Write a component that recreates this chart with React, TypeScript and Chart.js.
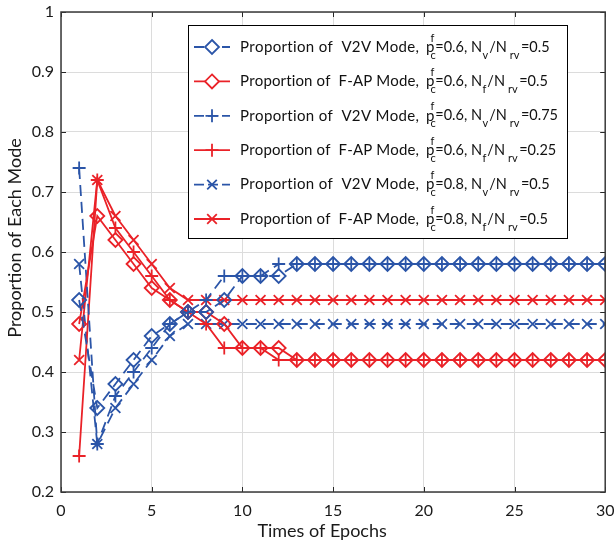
import React, { useEffect, useRef } from 'react';
import { Chart, registerables } from 'chart.js';

Chart.register(...registerables);

const FONT = 'Lato';
const BLUE = '#2B55A8';
const RED = '#EA2228';

const epochs = [1, 2, 3, 4, 5, 6, 7, 8, 9, 10, 11, 12, 13, 14, 15, 16, 17, 18, 19, 20, 21, 22, 23, 24, 25, 26, 27, 28, 29, 30];

const v2v06 = [0.52, 0.34, 0.38, 0.42, 0.46, 0.48, 0.50, 0.50, 0.52, 0.56, 0.56, 0.56, 0.58, 0.58, 0.58, 0.58, 0.58, 0.58, 0.58, 0.58, 0.58, 0.58, 0.58, 0.58, 0.58, 0.58, 0.58, 0.58, 0.58, 0.58];
const fap06 = [0.48, 0.66, 0.62, 0.58, 0.54, 0.52, 0.50, 0.50, 0.48, 0.44, 0.44, 0.44, 0.42, 0.42, 0.42, 0.42, 0.42, 0.42, 0.42, 0.42, 0.42, 0.42, 0.42, 0.42, 0.42, 0.42, 0.42, 0.42, 0.42, 0.42];
const v2v075 = [0.74, 0.28, 0.36, 0.40, 0.44, 0.48, 0.50, 0.52, 0.56, 0.56, 0.56, 0.58, 0.58, 0.58, 0.58, 0.58, 0.58, 0.58, 0.58, 0.58, 0.58, 0.58, 0.58, 0.58, 0.58, 0.58, 0.58, 0.58, 0.58, 0.58];
const fap025 = [0.26, 0.72, 0.64, 0.60, 0.56, 0.52, 0.50, 0.48, 0.44, 0.44, 0.44, 0.42, 0.42, 0.42, 0.42, 0.42, 0.42, 0.42, 0.42, 0.42, 0.42, 0.42, 0.42, 0.42, 0.42, 0.42, 0.42, 0.42, 0.42, 0.42];
const v2v08 = [0.58, 0.28, 0.34, 0.38, 0.42, 0.46, 0.48, 0.48, 0.48, 0.48, 0.48, 0.48, 0.48, 0.48, 0.48, 0.48, 0.48, 0.48, 0.48, 0.48, 0.48, 0.48, 0.48, 0.48, 0.48, 0.48, 0.48, 0.48, 0.48, 0.48];
const fap08 = [0.42, 0.72, 0.66, 0.62, 0.58, 0.54, 0.52, 0.52, 0.52, 0.52, 0.52, 0.52, 0.52, 0.52, 0.52, 0.52, 0.52, 0.52, 0.52, 0.52, 0.52, 0.52, 0.52, 0.52, 0.52, 0.52, 0.52, 0.52, 0.52, 0.52];

const xTitle = 'Times of Epochs';
const yTitle = 'Proportion of Each Mode';

type Series = {
  values: number[];
  color: string;
  dashed: boolean;
  marker: 'diamond' | 'plus' | 'x';
  mode: string;
  pcf: string;
  num: string;
  ratio: string;
};

const series: Series[] = [
  { values: v2v06, color: BLUE, dashed: true, marker: 'diamond', mode: 'V2V', pcf: '0.6', num: 'v', ratio: '0.5' },
  { values: fap06, color: RED, dashed: false, marker: 'diamond', mode: 'F-AP', pcf: '0.6', num: 'f', ratio: '0.5' },
  { values: v2v075, color: BLUE, dashed: true, marker: 'plus', mode: 'V2V', pcf: '0.6', num: 'v', ratio: '0.75' },
  { values: fap025, color: RED, dashed: false, marker: 'plus', mode: 'F-AP', pcf: '0.6', num: 'f', ratio: '0.25' },
  { values: v2v08, color: BLUE, dashed: true, marker: 'x', mode: 'V2V', pcf: '0.8', num: 'v', ratio: '0.5' },
  { values: fap08, color: RED, dashed: false, marker: 'x', mode: 'F-AP', pcf: '0.8', num: 'f', ratio: '0.5' },
];

const DASH = [11, 6];
const styleMap: Record<string, { ps: string; r: number }> = {
  diamond: { ps: 'rectRot', r: 7 },
  plus: { ps: 'cross', r: 6.5 },
  x: { ps: 'crossRot', r: 7 },
};

function drawMarker(ctx: CanvasRenderingContext2D, kind: string, x: number, y: number, color: string) {
  ctx.save();
  ctx.strokeStyle = color;
  ctx.lineWidth = 1.8;
  ctx.setLineDash([]);
  ctx.beginPath();
  if (kind === 'diamond') {
    const r = 7;
    ctx.moveTo(x, y - r);
    ctx.lineTo(x + r, y);
    ctx.lineTo(x, y + r);
    ctx.lineTo(x - r, y);
    ctx.closePath();
    ctx.fillStyle = '#fff';
    ctx.fill();
  } else if (kind === 'plus') {
    const r = 6.5;
    ctx.moveTo(x - r, y);
    ctx.lineTo(x + r, y);
    ctx.moveTo(x, y - r);
    ctx.lineTo(x, y + r);
  } else {
    const r = 4.8;
    ctx.moveTo(x - r, y - r);
    ctx.lineTo(x + r, y + r);
    ctx.moveTo(x - r, y + r);
    ctx.lineTo(x + r, y - r);
  }
  ctx.stroke();
  ctx.restore();
}

const framePlugin = {
  id: 'frame',
  afterDatasetsDraw(chart: any) {
    const { ctx, chartArea: a, scales } = chart;
    ctx.save();
    ctx.strokeStyle = '#262626';
    ctx.lineWidth = 1;
    ctx.setLineDash([]);
    ctx.beginPath();
    const xs = scales.x;
    const ys = scales.y;
    xs.ticks.forEach((t: any) => {
      const px = Math.round(xs.getPixelForValue(t.value)) + 0.5;
      ctx.moveTo(px, a.bottom);
      ctx.lineTo(px, a.bottom - 5);
      ctx.moveTo(px, a.top);
      ctx.lineTo(px, a.top + 5);
    });
    ys.ticks.forEach((t: any) => {
      const py = Math.round(ys.getPixelForValue(t.value)) + 0.5;
      ctx.moveTo(a.left, py);
      ctx.lineTo(a.left + 5, py);
      ctx.moveTo(a.right, py);
      ctx.lineTo(a.right - 5, py);
    });
    ctx.stroke();
    ctx.strokeStyle = '#3a3a3a';
    ctx.lineWidth = 1.5;
    ctx.strokeRect(a.left, a.top, a.right - a.left, a.bottom - a.top);

    ctx.fillStyle = '#1a1a1a';
    ctx.font = `18px ${FONT}`;
    ctx.textAlign = 'center';
    ctx.textBaseline = 'middle';
    ctx.fillText(xTitle, (a.left + a.right) / 2 - 11, a.bottom + 39);
    ctx.save();
    ctx.translate(15, (a.top + a.bottom) / 2 - 14);
    ctx.rotate(-Math.PI / 2);
    ctx.fillText(yTitle, 0, 0);
    ctx.restore();
    ctx.restore();
  },
};

function spacedText(ctx: CanvasRenderingContext2D, text: string, x: number, y: number, target: number) {
  const chars = Array.from(text);
  const widths = chars.map((c) => ctx.measureText(c).width);
  const natural = widths.reduce((p, c) => p + c, 0);
  const gap = chars.length > 1 ? (target - natural) / (chars.length - 1) : 0;
  let cx = x;
  chars.forEach((c, i) => {
    ctx.fillText(c, cx, y);
    cx += widths[i] + gap;
  });
}

const legendPlugin = {
  id: 'customLegend',
  afterDraw(chart: any) {
    const { ctx, chartArea: a } = chart;
    const bx = a.left + 127;
    const by = a.top + 13;
    const bw = 379;
    const bh = 213;
    ctx.save();
    ctx.fillStyle = '#fff';
    ctx.fillRect(bx, by, bw, bh);
    ctx.strokeStyle = '#000';
    ctx.lineWidth = 1;
    ctx.strokeRect(bx + 0.5, by + 0.5, bw, bh);

    const main = `15px ${FONT}`;
    const tail = `14.5px ${FONT}`;
    const small = `11px ${FONT}`;
    series.forEach((s, i) => {
      const y = by + 22 + i * 34.4;
      ctx.save();
      ctx.strokeStyle = s.color;
      ctx.lineWidth = 1.8;
      ctx.setLineDash(s.dashed ? [10, 4] : []);
      ctx.beginPath();
      ctx.moveTo(bx + 6, y);
      ctx.lineTo(bx + 42, y);
      ctx.stroke();
      ctx.restore();
      drawMarker(ctx, s.marker, bx + 24, y, s.color);

      ctx.fillStyle = '#111';
      ctx.textBaseline = 'middle';
      ctx.textAlign = 'left';
      ctx.font = main;
      spacedText(ctx, `Proportion of  ${s.mode} Mode,`, bx + 52, y, 179);
      let x = bx + 238;
      const put = (t: string, f: string, dy: number) => {
        ctx.font = f;
        ctx.fillText(t, x, y + dy);
        return ctx.measureText(t).width;
      };
      put('p', main, 0);
      x += 4.5;
      const w1 = put('f', small, -9);
      const w2 = put('c', small, 8);
      x += Math.max(w1, w2) - 0.5;
      x += put(`=${s.pcf}, N`, tail, 0);
      x += 0.5;
      x += put(s.num, small, 8) + 1;
      x += put('/N', tail, 0);
      x += 3;
      x += put('rv', small, 8) + 1.5;
      put(`=${s.ratio}`, tail, 0);
    });
    ctx.restore();
  },
};

const fmt = (v: any) => Number(Number(v).toFixed(2)).toString();

export default function App() {
  const ref = useRef<HTMLCanvasElement>(null);
  useEffect(() => {
    const tickFont = { family: FONT, size: 16 };
    const chart = new Chart(ref.current as HTMLCanvasElement, {
      type: 'line',
      data: {
        datasets: series.map((s) => ({
          data: epochs.map((e, i) => ({ x: e, y: s.values[i] })),
          borderColor: s.color,
          backgroundColor: 'transparent',
          borderWidth: 1.8,
          borderDash: s.dashed ? DASH : [],
          pointStyle: styleMap[s.marker].ps as any,
          pointRadius: styleMap[s.marker].r,
          pointBorderColor: s.color,
          pointBackgroundColor: 'transparent',
          pointBorderWidth: 1.8,
          tension: 0,
          clip: 0 as any,
        })),
      },
      options: {
        animation: false,
        responsive: false,
        layout: { padding: { top: 12, right: 7, left: 0, bottom: 0 } },
        plugins: { legend: { display: false }, tooltip: { enabled: false } },
        scales: {
          x: {
            type: 'linear',
            min: 0,
            max: 30,
            ticks: { stepSize: 5, font: tickFont, color: '#1a1a1a', padding: 9, maxRotation: 0, callback: fmt },
            grid: { color: '#dcdcdc', drawTicks: false },
            border: { display: false },
            afterFit: (s: any) => { s.height = 54; s.paddingLeft = 0; s.paddingRight = 0; },
          },
          y: {
            type: 'linear',
            min: 0.2,
            max: 1,
            ticks: { stepSize: 0.1, font: tickFont, color: '#1a1a1a', padding: 7, callback: fmt },
            grid: { color: '#dcdcdc', drawTicks: false },
            border: { display: false },
            afterFit: (s: any) => { s.width = 61; s.paddingTop = 0; s.paddingBottom = 0; },
          },
        },
      },
      plugins: [framePlugin, legendPlugin],
    });
    return () => chart.destroy();
  }, []);
  return (
    <div style={{ position: 'absolute', left: 0, top: 0, width: 614, height: 546, background: '#fff' }}>
      <canvas ref={ref} width={614} height={546} style={{ display: 'block' }} />
    </div>
  );
}
